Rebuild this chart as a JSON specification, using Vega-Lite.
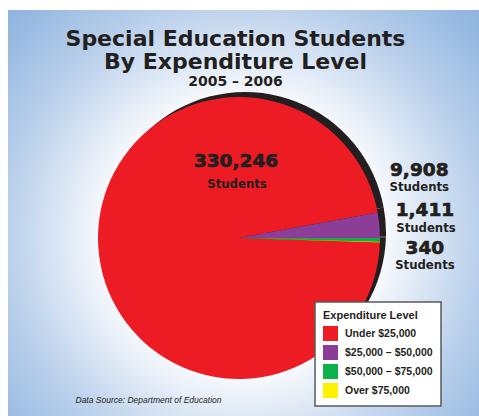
{
  "$schema": "https://vega.github.io/schema/vega-lite/v6.json",
  "width": 479,
  "height": 416,
  "autosize": {"type": "fit", "contains": "padding"},
  "padding": {"left": 8, "top": 10, "right": 0, "bottom": 0},
  "background": "white",
  "config": {"legend": {"strokeWidth": 1.5}},
  "view": {
    "stroke": null,
    "fill": {
      "gradient": "radial",
      "x1": 0.5, "y1": 0.55, "r1": 0,
      "x2": 0.5, "y2": 0.55, "r2": 0.72,
      "stops": [
        {"offset": 0, "color": "#ffffff"},
        {"offset": 0.38, "color": "#ffffff"},
        {"offset": 0.7, "color": "#b9cfeb"},
        {"offset": 1, "color": "#86afdc"}
      ]
    }
  },
  "title": {
    "text": ["Special Education Students", "By Expenditure Level"],
    "subtitle": "2005 – 2006",
    "font": "DejaVu Sans",
    "fontWeight": "bold",
    "fontSize": 22,
    "lineHeight": 23,
    "color": "#231f20",
    "subtitleFont": "DejaVu Sans",
    "subtitleFontWeight": "bold",
    "subtitleFontSize": 14,
    "subtitleColor": "#231f20",
    "subtitlePadding": 1,
    "anchor": "middle",
    "offset": -80,
    "dx": -8
  },
  "data": {
    "values": [
      {"level": "Under $25,000", "students": 330246},
      {"level": "$25,000 – $50,000", "students": 9908},
      {"level": "$50,000 – $75,000", "students": 1411},
      {"level": "Over $75,000", "students": 340}
    ]
  },
  "encoding": {
    "theta": {"field": "students", "type": "quantitative", "stack": true, "scale": {"range": [1.60298, 7.88617]}},
    "order": {"field": "students", "type": "quantitative", "sort": "descending"}
  },
  "layer": [
    {
      "mark": {"type": "rule", "opacity": 0},
      "encoding": {
        "x": {
          "datum": 0,
          "type": "quantitative",
          "axis": {
            "title": "Data Source:  Department of Education",
            "labels": false, "ticks": false, "domain": false, "grid": false,
            "titleFont": "Liberation Sans", "titleFontSize": 8.5, "titleFontStyle": "italic",
            "titleFontWeight": "normal", "titleColor": "#231f20",
            "titleX": 67, "titleY": -14, "titleAlign": "left", "titleAnchor": "start", "titleBaseline": "alphabetic"
          }
        }
      }
    },
    {
      "mark": {"type": "arc", "outerRadius": 141, "fill": "#231f20", "xOffset": 1.5, "yOffset": 20},
      "encoding": {"detail": {"field": "level"}}
    },
    {
      "mark": {"type": "arc", "outerRadius": 141, "xOffset": -4.5, "yOffset": 25},
      "encoding": {
        "color": {
          "field": "level",
          "type": "nominal",
          "scale": {
            "domain": ["Under $25,000", "$25,000 – $50,000", "$50,000 – $75,000", "Over $75,000"],
            "range": ["#ed1c24", "#8b3d97", "#0cb14b", "#fff200"]
          },
          "legend": {
            "title": "Expenditure Level",
            "orient": "none", "legendX": 307, "legendY": 292,
            "padding": 8, "fillColor": "white", "strokeColor": "#58595b",
            "symbolType": "square", "symbolSize": 225, "symbolStrokeWidth": 0,
            "titleFont": "Liberation Sans", "titleFontSize": 11, "titleFontWeight": "bold", "titleColor": "#231f20",
            "labelFont": "Liberation Sans", "labelFontSize": 10.5, "labelFontWeight": "bold", "labelColor": "#231f20",
            "rowPadding": 4, "labelOffset": 7, "titlePadding": 5
          }
        }
      }
    },
    {
      "mark": {"type": "text", "radius": 0, "xOffset": -4.5, "yOffset": 25, "dx": -3, "dy": -77, "font": "DejaVu Sans", "fontWeight": "bold", "fontSize": 18.5, "fill": "#231f20", "stroke": "#231f20", "strokeWidth": 0.7},
      "encoding": {"detail": {"field": "level"}, "text": {"condition": {"test": "datum.level === 'Under $25,000'", "field": "students", "format": ","}, "value": ""}}
    },
    {
      "mark": {"type": "text", "radius": 0, "xOffset": -4.5, "yOffset": 25, "dx": -2, "dy": -54, "font": "DejaVu Sans Condensed", "fontWeight": "bold", "fontSize": 13, "fill": "#231f20"},
      "encoding": {"detail": {"field": "level"}, "text": {"condition": {"test": "datum.level === 'Under $25,000'", "value": "Students"}, "value": ""}}
    },
    {
      "mark": {"type": "text", "radius": 182, "xOffset": -4.5, "yOffset": 25, "dx": -1, "dy": -51, "font": "DejaVu Sans", "fontWeight": "bold", "fontSize": 18.5, "fill": "#231f20", "stroke": "#231f20", "strokeWidth": 0.7},
      "encoding": {"detail": {"field": "level"}, "text": {"condition": {"test": "datum.level === '$25,000 – $50,000'", "field": "students", "format": ","}, "value": ""}}
    },
    {
      "mark": {"type": "text", "radius": 182, "xOffset": -4.5, "yOffset": 25, "dx": -1, "dy": -34.5, "font": "DejaVu Sans Condensed", "fontWeight": "bold", "fontSize": 13, "fill": "#231f20"},
      "encoding": {"detail": {"field": "level"}, "text": {"condition": {"test": "datum.level === '$25,000 – $50,000'", "value": "Students"}, "value": ""}}
    },
    {
      "mark": {"type": "text", "radius": 186, "xOffset": -4.5, "yOffset": 25, "dx": 0, "dy": -30, "font": "DejaVu Sans", "fontWeight": "bold", "fontSize": 18.5, "fill": "#231f20", "stroke": "#231f20", "strokeWidth": 0.7},
      "encoding": {"detail": {"field": "level"}, "text": {"condition": {"test": "datum.level === '$50,000 – $75,000'", "field": "students", "format": ","}, "value": ""}}
    },
    {
      "mark": {"type": "text", "radius": 186, "xOffset": -4.5, "yOffset": 25, "dx": 1, "dy": -12, "font": "DejaVu Sans Condensed", "fontWeight": "bold", "fontSize": 13, "fill": "#231f20"},
      "encoding": {"detail": {"field": "level"}, "text": {"condition": {"test": "datum.level === '$50,000 – $75,000'", "value": "Students"}, "value": ""}}
    },
    {
      "mark": {"type": "text", "radius": 186, "xOffset": -4.5, "yOffset": 25, "dx": 0, "dy": 5, "font": "DejaVu Sans", "fontWeight": "bold", "fontSize": 18.5, "fill": "#231f20", "stroke": "#231f20", "strokeWidth": 0.7},
      "encoding": {"detail": {"field": "level"}, "text": {"condition": {"test": "datum.level === 'Over $75,000'", "field": "students", "format": ","}, "value": ""}}
    },
    {
      "mark": {"type": "text", "radius": 186, "xOffset": -4.5, "yOffset": 25, "dx": 0, "dy": 21.5, "font": "DejaVu Sans Condensed", "fontWeight": "bold", "fontSize": 13, "fill": "#231f20"},
      "encoding": {"detail": {"field": "level"}, "text": {"condition": {"test": "datum.level === 'Over $75,000'", "value": "Students"}, "value": ""}}
    }
  ]
}
